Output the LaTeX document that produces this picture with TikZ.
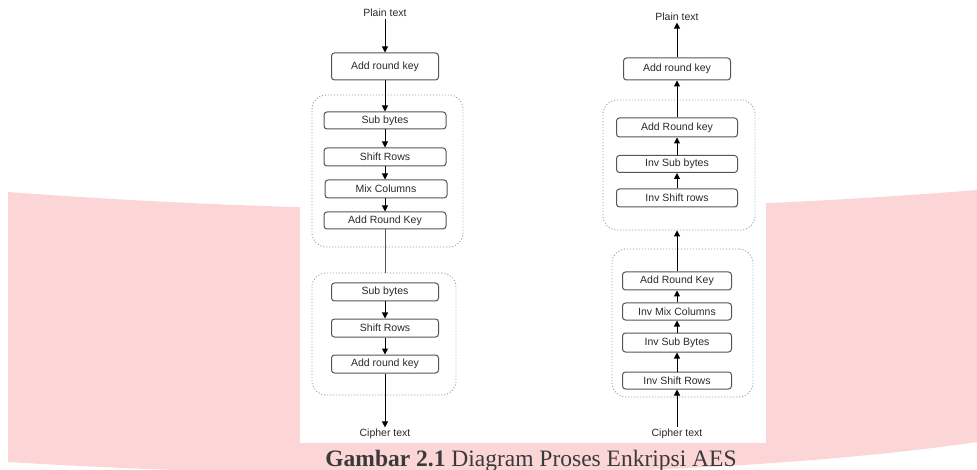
\documentclass[tikz,border=0pt]{standalone}
\usepackage{fontspec}
\setmainfont{Liberation Serif}
\newfontfamily\diagfont{Liberation Sans}
\usetikzlibrary{arrows.meta}
\definecolor{bandpink}{HTML}{FCD5D7}
\definecolor{boxline}{HTML}{555555}
\definecolor{dotline}{HTML}{A0A0A0}
\definecolor{txt}{HTML}{2A2A2A}
\definecolor{captxt}{HTML}{3A3A3A}
\tikzset{
  stepbox/.style={draw=boxline, line width=1pt, rounded corners=3pt, inner sep=0pt,
    font=\diagfont\fontsize{10.5}{12}\selectfont, text=txt},
  container/.style={draw=dotline, line width=0.9pt, dash pattern=on 1.1pt off 1.9pt,
    rounded corners=14pt, inner sep=0pt},
  label/.style={font=\diagfont\fontsize{10.5}{12}\selectfont, text=txt, inner sep=1.5pt},
  arr/.style={line width=1pt, -{Triangle[length=6pt,width=6pt]}},
  plain/.style={line width=1pt, draw=boxline}
}
\begin{document}
\begin{tikzpicture}[x=1pt,y=-1pt]
\useasboundingbox (0,0) rectangle (977,470);
% background band
\fill[bandpink] (8,192) .. controls (330,216) and (650,216) .. (977,190)
  -- (977,442) .. controls (700,482) and (300,480) .. (8,462) -- cycle;
\fill[white] (300,0) rectangle (766,443);
% containers
\node[container, minimum width=151pt, minimum height=152pt] (c1) at (387.5,171) {};
\node[container, minimum width=144pt, minimum height=122pt] (c2) at (384,334) {};
\node[container, minimum width=152pt, minimum height=130pt] (c3) at (679,165) {};
\node[container, minimum width=141pt, minimum height=148pt] (c4) at (682.5,323) {};
% left column
\node[label] (pt1) at (385,13) {Plain text};
\node[stepbox, minimum width=107pt, minimum height=27pt] (ark1) at (385,66.5) {Add round key};
\node[stepbox, minimum width=122pt, minimum height=17pt] (sb1) at (385,120.5) {Sub bytes};
\node[stepbox, minimum width=122pt, minimum height=18pt] (sr1) at (385,157) {Shift Rows};
\node[stepbox, minimum width=122pt, minimum height=18pt] (mc1) at (386,189) {Mix Columns};
\node[stepbox, minimum width=122pt, minimum height=17pt] (ark2) at (385,220.5) {Add Round Key};
\node[stepbox, minimum width=107pt, minimum height=18pt] (sb2) at (385,292) {Sub bytes};
\node[stepbox, minimum width=107pt, minimum height=18pt] (sr2) at (385,328) {Shift Rows};
\node[stepbox, minimum width=107pt, minimum height=18pt] (ark3) at (385,364) {Add round key};
\node[label] (ct1) at (385,434) {Cipher text};
\draw[arr] (pt1) -- (ark1);
\draw[arr] (ark1) -- (sb1);
\draw[arr] (sb1) -- (sr1);
\draw[arr] (sr1.south) -- (sr1.south |- mc1.north);
\draw[arr] (sr1.south |- mc1.south) -- (ark2.north);
\draw[plain] (ark2.south) -- (ark2.south |- c2.north);
\draw[arr] (sb2) -- (sr2);
\draw[arr] (sr2) -- (ark3);
\draw[arr] (ark3) -- (ct1);
% right column
\node[label] (pt2) at (677,17) {Plain text};
\node[stepbox, minimum width=107pt, minimum height=22pt] (ark4) at (677,69) {Add round key};
\node[stepbox, minimum width=121pt, minimum height=19pt] (ark5) at (677,127.5) {Add Round key};
\node[stepbox, minimum width=121pt, minimum height=17pt] (isb1) at (677,164) {Inv Sub bytes};
\node[stepbox, minimum width=121pt, minimum height=18pt] (isr1) at (677,198) {Inv Shift rows};
\node[stepbox, minimum width=109pt, minimum height=18pt] (ark6) at (677,281) {Add Round Key};
\node[stepbox, minimum width=109pt, minimum height=17pt] (imc) at (677,311.5) {Inv Mix Columns};
\node[stepbox, minimum width=109pt, minimum height=19pt] (isb2) at (677,342.5) {Inv Sub Bytes};
\node[stepbox, minimum width=109pt, minimum height=17pt] (isr2) at (677,380.5) {Inv Shift Rows};
\node[label] (ct2) at (677,434) {Cipher text};
\draw[arr] (ark4) -- (pt2);
\draw[arr] (ark5) -- (ark4);
\draw[arr] (isb1) -- (ark5);
\draw[arr] (isr1) -- (isb1);
\draw[arr] (ark6.north) -- (ark6.north |- c3.south);
\draw[arr] (imc) -- (ark6);
\draw[arr] (isb2) -- (imc);
\draw[arr] (isr2) -- (isb2);
\draw[arr] (ct2) -- (isr2);
% caption
\node[anchor=base, text=captxt, inner sep=0pt, font=\fontsize{23.5}{28}\selectfont] (cap) at (531,466)
  {\textbf{Gambar 2.1} Diagram Proses Enkripsi AES};
\end{tikzpicture}
\end{document}
